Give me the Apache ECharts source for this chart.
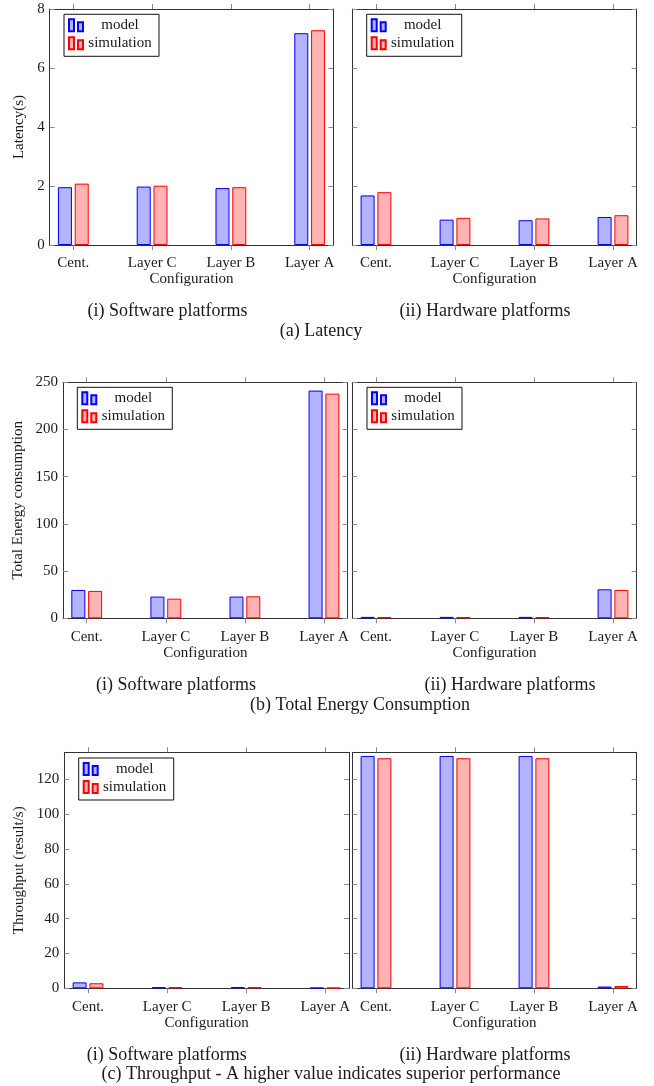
<!DOCTYPE html>
<html>
<head>
<meta charset="utf-8">
<script src="https://cdn.jsdelivr.net/npm/echarts@6/dist/echarts.min.js"></script>
<style>
html,body{margin:0;padding:0;background:#fff;}
#c{width:654px;height:1086px;}
</style>
</head>
<body>
<div id="c"></div>
<script>
var categories = ['Cent.', 'Layer C', 'Layer B', 'Layer A'];
var categoryPositions = [0, 1, 2, 3];

var latencySwModel = [1.96, 1.98, 1.93, 7.18];
var latencySwSim   = [2.08, 2.01, 1.96, 7.28];
var latencyHwModel = [1.68, 0.86, 0.84, 0.95];
var latencyHwSim   = [1.79, 0.92, 0.90, 1.01];

var energySwModel = [30.0, 23.0, 23.0, 241.2];
var energySwSim   = [29.0, 20.8, 23.3, 238.0];
var energyHwModel = [1.5, 1.5, 1.5, 30.7];
var energyHwSim   = [1.4, 1.4, 1.4, 30.0];

var throughputSwModel = [3.4, 0.7, 0.7, 0.3];
var throughputSwSim   = [2.9, 0.7, 0.7, 0.3];
var throughputHwModel = [133.4, 133.4, 133.4, 1.0];
var throughputHwSim   = [132.1, 132.1, 132.1, 1.3];

var latencyTicks = [0, 2, 4, 6, 8];
var energyTicks = [0, 50, 100, 150, 200, 250];
var throughputTicks = [0, 20, 40, 60, 80, 100, 120];

var seriesNames = ['model', 'simulation'];
var yTitles = ['Latency(s)', 'Total Energy consumption', 'Throughput (result/s)'];
var subCaptions = ['(i) Software platforms', '(ii) Hardware platforms'];
var captions = ['(a) Latency', '(b) Total Energy Consumption', '(c) Throughput - A higher value indicates superior performance'];

var FONT = 'Liberation Serif';
var TXT = '#1a1a1a';

// panel layout
var rowTop = [9, 382.3, 752.3];
var rowH = 236;
var leftX = [49.7, 63, 64.3];
var leftW = [283.6, 284.7, 284.7];
var rightX = 352.3, rightW = 284.4;
var yMax = [8, 250, 135.5];
var yTicks = [latencyTicks, energyTicks, throughputTicks];
var yNameGap = [23, 37, 37.5];

var panels = [
  [[latencySwModel, latencySwSim], [latencyHwModel, latencyHwSim]],
  [[energySwModel, energySwSim], [energyHwModel, energyHwSim]],
  [[throughputSwModel, throughputSwSim], [throughputHwModel, throughputHwSim]]
];

var legendPos = [
  [[64, 14.3], [366.7, 14.3]],
  [[77.3, 387.3], [367, 387.3]],
  [[78.7, 758], null]
];

var captionPos = [
  {sub: [[167.5, 311.7], [485, 311.7]], main: [321, 331.7]},
  {sub: [[176, 685], [510, 685]], main: [360, 705]},
  {sub: [[166.7, 1055], [485, 1055]], main: [331, 1074]}
];

var styles = [
  {color: '#b3b3ff', borderColor: '#0000ff', borderWidth: 1},
  {color: '#ffb3b3', borderColor: '#ff0000', borderWidth: 1}
];

var grid = [], xAxis = [], yAxis = [], series = [], legend = [], graphic = [];
var axisLineStyle = {color: '#333', width: 1};
var tickStyle = {color: '#8a8a8a', width: 1};

for (var r = 0; r < 3; r++) {
  for (var c = 0; c < 2; c++) {
    var g = grid.length;
    grid.push({
      left: c === 0 ? leftX[r] : rightX,
      top: rowTop[r],
      width: c === 0 ? leftW[r] : rightW,
      height: rowH,
      containLabel: false
    });
    // bottom x axis
    xAxis.push({
      gridIndex: g, type: 'value', min: -0.3, max: 3.3, position: 'bottom',
      splitLine: {show: false},
      axisLine: {show: true, onZero: false, lineStyle: axisLineStyle},
      axisTick: {show: true, inside: false, length: 5, customValues: categoryPositions, lineStyle: tickStyle},
      axisLabel: {show: true, customValues: categoryPositions, margin: 11,
        formatter: function (v) { return categories[Math.round(v)]; },
        fontFamily: FONT, fontSize: 15, color: TXT},
      name: 'Configuration', nameLocation: 'middle', nameGap: 25,
      nameTextStyle: {fontFamily: FONT, fontSize: 15, color: TXT}
    });
    // top x axis
    xAxis.push({
      gridIndex: g, type: 'value', min: -0.3, max: 3.3, position: 'top',
      splitLine: {show: false},
      axisLine: {show: true, onZero: false, lineStyle: axisLineStyle},
      axisTick: {show: true, inside: false, length: 5, customValues: categoryPositions, lineStyle: tickStyle},
      axisLabel: {show: false}
    });
    // left y axis
    yAxis.push({
      gridIndex: g, type: 'value', min: 0, max: yMax[r], position: 'left',
      splitLine: {show: false},
      axisLine: {show: true, onZero: false, lineStyle: axisLineStyle},
      axisTick: {show: true, inside: true, length: 5, customValues: yTicks[r], lineStyle: tickStyle},
      axisLabel: {show: c === 0, customValues: yTicks[r], margin: 5, fontFamily: FONT, fontSize: 15, color: TXT},
      name: c === 0 ? yTitles[r] : '', nameLocation: 'middle', nameGap: yNameGap[r],
      nameTextStyle: {fontFamily: FONT, fontSize: 15, color: TXT}
    });
    // right y axis
    yAxis.push({
      gridIndex: g, type: 'value', min: 0, max: yMax[r], position: 'right',
      splitLine: {show: false},
      axisLine: {show: true, onZero: false, lineStyle: axisLineStyle},
      axisTick: {show: true, inside: true, length: 5, customValues: yTicks[r], lineStyle: tickStyle},
      axisLabel: {show: false}
    });
    for (var s = 0; s < 2; s++) {
      var vals = panels[r][c][s];
      series.push({
        type: 'bar', name: seriesNames[s],
        xAxisIndex: 2 * g, yAxisIndex: 2 * g,
        barWidth: 14, barGap: '20%',
        itemStyle: styles[s],
        emphasis: {disabled: true},
        animation: false,
        data: vals.map(function (v, i) { return [categoryPositions[i], v]; })
      });
    }
    var lp = legendPos[r][c];
    if (lp) {
      legend.push({
        left: lp[0], top: lp[1], orient: 'vertical',
        data: seriesNames,
        icon: 'path://M0,0h5v12h-5z M9,3h5v9h-5z',
        itemWidth: 14, itemHeight: 12, itemGap: 0,
        padding: [2, 7, 4, 4],
        borderColor: '#111', borderWidth: 1, backgroundColor: '#fff',
        selectedMode: false,
        formatter: '{t|{name}}',
        textStyle: {fontFamily: FONT, fontSize: 15, color: TXT, lineHeight: 18,
          rich: {t: {width: 64, align: 'center', fontFamily: FONT, fontSize: 15, color: TXT, lineHeight: 18}}}
      });
    }
  }
  var cp = captionPos[r];
  for (var k = 0; k < 2; k++) {
    graphic.push({type: 'text', x: cp.sub[k][0], y: cp.sub[k][1],
      style: {text: subCaptions[k], fontFamily: FONT, fontSize: 18, fill: TXT, align: 'center', verticalAlign: 'middle'}});
  }
  graphic.push({type: 'text', x: cp.main[0], y: cp.main[1],
    style: {text: captions[r], fontFamily: FONT, fontSize: 18, fill: TXT, align: 'center', verticalAlign: 'middle'}});
}

var chart = echarts.init(document.getElementById('c'), null, {renderer: 'canvas'});
chart.setOption({
  backgroundColor: '#fff',
  animation: false,
  grid: grid, xAxis: xAxis, yAxis: yAxis, series: series, legend: legend, graphic: graphic
});
</script>
</body>
</html>
